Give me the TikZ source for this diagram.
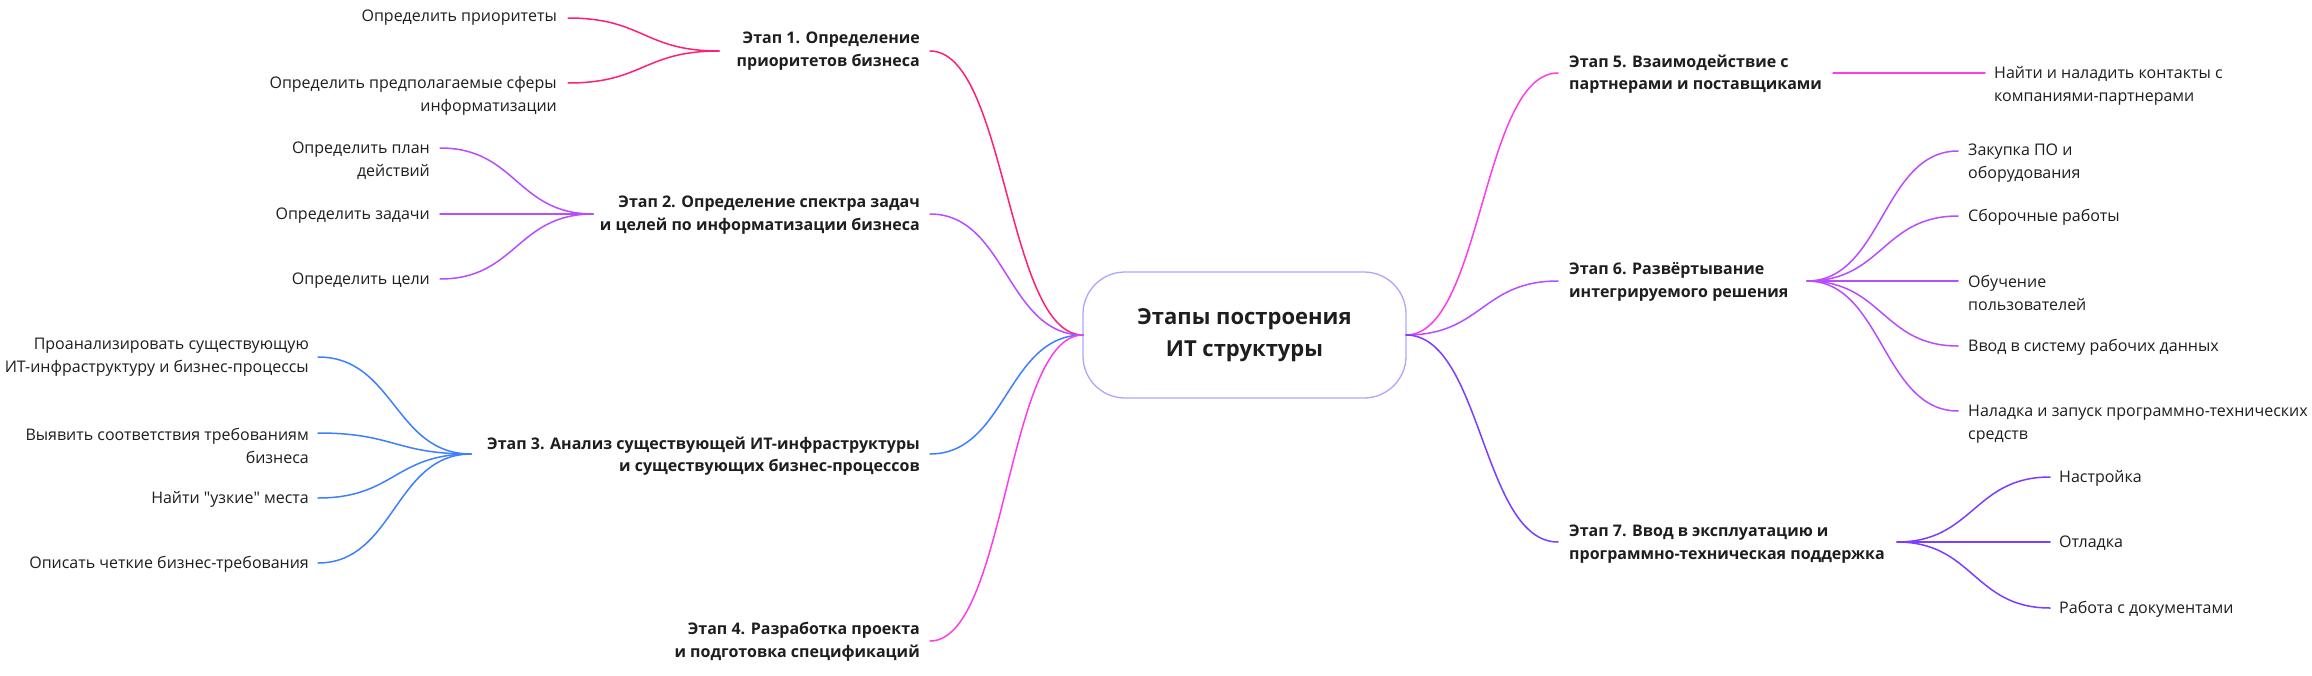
\documentclass[tikz,border=0pt]{standalone}
\usepackage{fontspec}
\setmainfont{Open Sans}
\usetikzlibrary{calc}
\definecolor{cA}{HTML}{FF1F78}
\definecolor{cB}{HTML}{B84DFF}
\definecolor{cC}{HTML}{3D7FFF}
\definecolor{cD}{HTML}{FF3DE8}
\definecolor{cE}{HTML}{7B3DFF}
\definecolor{cbox}{HTML}{ABA6FF}
\definecolor{ctext}{HTML}{1E1E1E}
\tikzset{
  hc/.style={to path={let \p1=(\tikztostart), \p2=(\tikztotarget) in (\p1) .. controls ({0.5*\x1+0.5*\x2},\y1) and ({0.5*\x1+0.5*\x2},\y2) .. (\p2)}},
  conn/.style={line width=1.5pt, line cap=round},
  stageL/.style={anchor=east, align=right, inner sep=0pt, text=ctext, font=\fontsize{16}{22.5}\selectfont\bfseries},
  stageR/.style={anchor=west, align=left, inner sep=0pt, text=ctext, font=\fontsize{16}{22.5}\selectfont\bfseries},
  leafL/.style={anchor=east, align=right, inner sep=0pt, text=ctext, font=\fontsize{16}{23}\selectfont},
  leafR/.style={anchor=west, align=left, inner sep=0pt, text=ctext, font=\fontsize{16}{23}\selectfont},
  centerbox/.style={draw=cbox, line width=1.3pt, rounded corners=42pt, minimum width=323pt, minimum height=126pt, align=center, text=ctext, font=\fontsize{22}{32}\selectfont\bfseries}
}
\begin{document}
\begin{tikzpicture}[x=1pt,y=-1pt]
\useasboundingbox[fill=white] (0,0) rectangle (2312,675);
% center
\node[centerbox] (c) at (1244.5,335) {Этапы построения\\ИТ структуры};
% stage nodes
\node[stageL] (s1) at (920,51) {Этап 1. Определение\\приоритетов бизнеса};
\node[stageL] (s2) at (920,215) {Этап 2. Определение спектра задач\\и целей по информатизации бизнеса};
\node[stageL] (s3) at (920,456) {Этап 3. Анализ существующей ИТ-инфраструктуры\\и существующих бизнес-процессов};
\node[stageL] (s4) at (920,642) {Этап 4. Разработка проекта\\и подготовка спецификаций};
\node[stageR] (s5) at (1569,74) {Этап 5. Взаимодействие с\\партнерами и поставщиками};
\node[stageR] (s6) at (1569,282) {Этап 6. Развёртывание\\интегрируемого решения};
\node[stageR] (s7) at (1569,544) {Этап 7. Ввод в эксплуатацию и\\программно-техническая поддержка};
% leaves
\node[leafL] (l11) at (557,18) {Определить приоритеты};
\node[leafL] (l12) at (557,96) {Определить предполагаемые сферы\\информатизации};
\node[leafL] (l21) at (430,161) {Определить план\\действий};
\node[leafL] (l22) at (430,216) {Определить задачи};
\node[leafL] (l23) at (430,281) {Определить цели};
\node[leafL] (l31) at (309,357) {Проанализировать существующую\\ИТ-инфраструктуру и бизнес-процессы};
\node[leafL] (l32) at (309,446) {Выявить соответствия требованиям\\бизнеса};
\node[leafL] (l33) at (309,499) {Найти \textquotedbl узкие\textquotedbl{} места};
\node[leafL] (l34) at (309,564) {Описать четкие бизнес-требования};
\node[leafR] (l51) at (1994,86) {Найти и наладить контакты с\\компаниями-партнерами};
\node[leafR] (l61) at (1968,163) {Закупка ПО и\\оборудования};
\node[leafR] (l62) at (1968,217) {Сборочные работы};
\node[leafR] (l63) at (1968,293) {Обучение\\пользователей};
\node[leafR] (l64) at (1968,347) {Ввод в систему рабочих данных};
\node[leafR] (l65) at (1968,424) {Наладка и запуск программно-технических\\средств};
\node[leafR] (l71) at (2059,478) {Настройка};
\node[leafR] (l72) at (2059,543) {Отладка};
\node[leafR] (l73) at (2059,609) {Работа с документами};
% attach coordinates
\coordinate (cw) at (1083,335);
\coordinate (ce) at (1406,335);
\coordinate (s1r) at (930,51);  \coordinate (s1j) at (719,51);
\coordinate (s2r) at (930,214); \coordinate (s2j) at (593,214);
\coordinate (s3r) at (930,454); \coordinate (s3j) at (471,454);
\coordinate (s4r) at (930,641);
\coordinate (s5l) at (1558,73); \coordinate (s5j) at (1833,73);
\coordinate (s6l) at (1558,281); \coordinate (s6j) at (1807,281);
\coordinate (s7l) at (1558,542); \coordinate (s7j) at (1897,542);
\coordinate (l11a) at (568,18);  \coordinate (l12a) at (568,83);
\coordinate (l21a) at (440,148); \coordinate (l22a) at (440,214); \coordinate (l23a) at (440,279);
\coordinate (l31a) at (318,357); \coordinate (l32a) at (318,433); \coordinate (l33a) at (318,498); \coordinate (l34a) at (318,563);
\coordinate (l51a) at (1985,73);
\coordinate (l61a) at (1958,151); \coordinate (l62a) at (1958,216); \coordinate (l63a) at (1958,281); \coordinate (l64a) at (1958,346); \coordinate (l65a) at (1958,411);
\coordinate (l71a) at (2050,477); \coordinate (l72a) at (2050,542); \coordinate (l73a) at (2050,608);
% center to stages
\draw[conn, cA] (cw) to[hc] (s1r);
\draw[conn, cB] (cw) to[hc] (s2r);
\draw[conn, cC] (cw) to[hc] (s3r);
\draw[conn, cD] (cw) to[hc] (s4r);
\draw[conn, cD] (ce) to[hc] (s5l);
\draw[conn, cB] (ce) to[hc] (s6l);
\draw[conn, cE] (ce) to[hc] (s7l);
% stage to leaves
\draw[conn, cA] (s1j) to[hc] (l11a);
\draw[conn, cA] (s1j) to[hc] (l12a);
\draw[conn, cB] (s2j) to[hc] (l21a);
\draw[conn, cB] (s2j) to[hc] (l22a);
\draw[conn, cB] (s2j) to[hc] (l23a);
\draw[conn, cC] (s3j) to[hc] (l31a);
\draw[conn, cC] (s3j) to[hc] (l32a);
\draw[conn, cC] (s3j) to[hc] (l33a);
\draw[conn, cC] (s3j) to[hc] (l34a);
\draw[conn, cD] (s5j) to[hc] (l51a);
\draw[conn, cB] (s6j) to[hc] (l61a);
\draw[conn, cB] (s6j) to[hc] (l62a);
\draw[conn, cB] (s6j) to[hc] (l63a);
\draw[conn, cB] (s6j) to[hc] (l64a);
\draw[conn, cB] (s6j) to[hc] (l65a);
\draw[conn, cE] (s7j) to[hc] (l71a);
\draw[conn, cE] (s7j) to[hc] (l72a);
\draw[conn, cE] (s7j) to[hc] (l73a);
\end{tikzpicture}
\end{document}
